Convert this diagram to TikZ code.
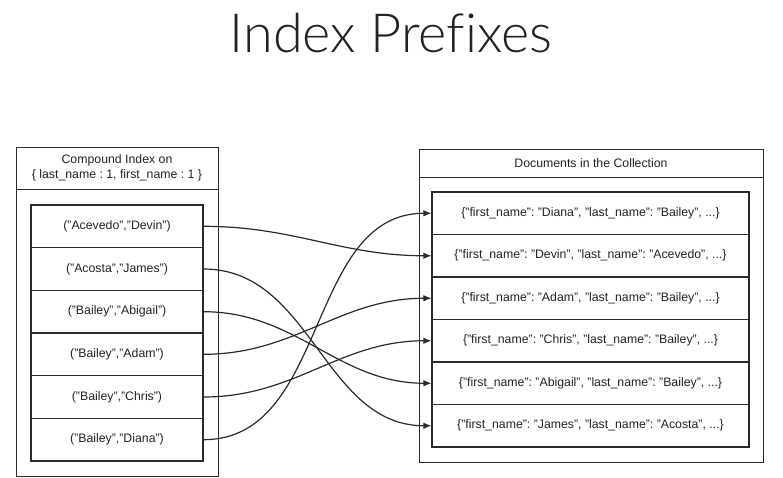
\documentclass[tikz,border=0pt]{standalone}
\usepackage{fontspec}
\setmainfont{Liberation Sans}
\newfontfamily\titlefont{Lato Light}[Ligatures=NoCommon]
\usetikzlibrary{arrows.meta}
\definecolor{ln}{HTML}{2A2A2A}
\definecolor{tx}{HTML}{222222}
\tikzset{
  outerbox/.style={draw=ln, line width=1pt},
  rowbox/.style={draw=ln, line width=1.1pt, minimum height=42.6pt, inner sep=0pt, font=\fontsize{12.3}{14}\selectfont, text=tx},
  lrow/.style={rowbox, minimum width=172pt},
  rrow/.style={rowbox, minimum width=317pt, minimum height=42.5pt},
  hdr/.style={font=\fontsize{12.3}{15}\selectfont, text=tx, align=center, inner sep=0pt},
  link/.style={draw=ln, line width=1.2pt, -{Latex[length=8pt,width=6.5pt]}, out=0, in=180}
}
\begin{document}
\frenchspacing
\begin{tikzpicture}[x=1pt, y=-1pt]
\useasboundingbox (0,0) rectangle (783,477);
% title
\node[anchor=base, inner sep=0pt, text=tx, font=\titlefont\fontsize{54}{60}\selectfont] (title) at (391,52) {Index Prefixes};
% left outer
\draw[outerbox] (16,147) rectangle (218,476);
\draw[outerbox] (16,189) -- (218,189);
\node[hdr] (lhdr) at (117,168) {Compound Index on\\\{ last\_name : 1, first\_name : 1 \}};
% right outer
\draw[outerbox] (419,149) rectangle (763,462);
\draw[outerbox] (419,177) -- (763,177);
\node[hdr] (rhdr) at (591,163) {Documents in the Collection};
% left rows
\node[lrow] (L1) at (117,226.3) {("Acevedo","Devin")};
\node[lrow] (L2) at (117,269.0) {("Acosta","James")};
\node[lrow] (L3) at (117,311.7) {("Bailey","Abigail")};
\node[lrow] (L4) at (117,354.3) {("Bailey","Adam")};
\node[lrow] (L5) at (117,397.0) {("Bailey","Chris")};
\node[lrow] (L6) at (117,439.7) {("Bailey","Diana")};
% right rows
\node[rrow] (R1) at (590.5,213.25) {\{"first\_name": "Diana", "last\_name": "Bailey", ...\}};
\node[rrow] (R2) at (590.5,255.75) {\{"first\_name": "Devin", "last\_name": "Acevedo", ...\}};
\node[rrow] (R3) at (590.5,298.25) {\{"first\_name": "Adam", "last\_name": "Bailey", ...\}};
\node[rrow] (R4) at (590.5,340.75) {\{"first\_name": "Chris", "last\_name": "Bailey", ...\}};
\node[rrow] (R5) at (590.5,383.25) {\{"first\_name": "Abigail", "last\_name": "Bailey", ...\}};
\node[rrow] (R6) at (590.5,425.75) {\{"first\_name": "James", "last\_name": "Acosta", ...\}};
% links
\draw[link] (L1.east) to (R2.west);
\draw[link] (L2.east) to (R6.west);
\draw[link] (L3.east) to (R5.west);
\draw[link] (L4.east) to (R3.west);
\draw[link] (L5.east) to (R4.west);
\draw[link] (L6.east) to (R1.west);
\end{tikzpicture}
\end{document}
